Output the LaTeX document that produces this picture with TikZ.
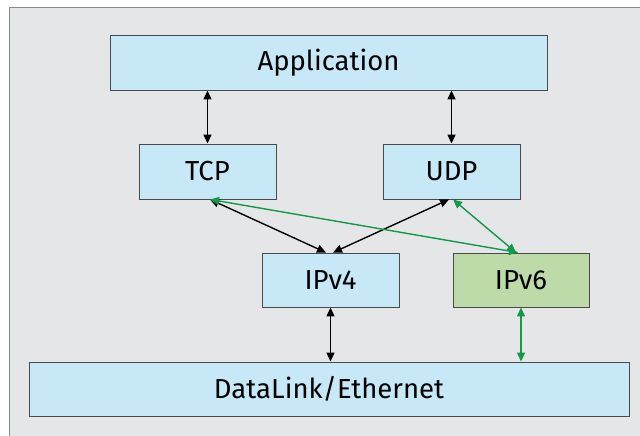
\documentclass[tikz,border=0pt]{standalone}
\usepackage{fontspec}
\setmainfont{Fira Sans}
\usetikzlibrary{arrows.meta}
\definecolor{bg}{HTML}{E5E6E8}
\definecolor{frame}{HTML}{8A8B8D}
\definecolor{boxblue}{HTML}{C6E8F7}
\definecolor{boxgreen}{HTML}{BCDBA9}
\definecolor{boxline}{HTML}{4A4A4A}
\definecolor{arrgreen}{HTML}{12994A}
\tikzset{
  layer/.style={draw=boxline, line width=0.9pt, fill=boxblue, inner sep=0pt,
    font=\fontsize{27.5}{32}\selectfont, text=black},
  conn/.style={line width=1.4pt, {Triangle[length=9pt,width=8pt]}-{Triangle[length=9pt,width=8pt]}},
  gconn/.style={conn, draw=arrgreen, fill=arrgreen},
}
\begin{document}
\begin{tikzpicture}[x=1pt,y=-1pt]
\useasboundingbox (0,0) rectangle (640,436);
\draw[frame, fill=bg, line width=1pt] (9,8) rectangle (648,444);
\node[layer, minimum width=437pt, minimum height=55pt] (app) at (328.5,62.5) {Application};
\node[layer, minimum width=137pt, minimum height=55pt] (tcp) at (207.5,171.5) {TCP};
\node[layer, minimum width=137pt, minimum height=55pt] (udp) at (451.5,171.5) {UDP};
\node[layer, minimum width=137pt, minimum height=54pt] (ipv4) at (330.5,280) {IPv4};
\node[layer, fill=boxgreen, minimum width=136pt, minimum height=54pt] (ipv6) at (521,280) {IPv6};
\node[layer, minimum width=600pt, minimum height=54pt] (dl) at (329,389) {DataLink/Ethernet};
% black connectors
\draw[conn] (app.south -| tcp.south) -- (tcp.north);
\draw[conn] (app.south -| udp.south) -- (udp.north);
\draw[conn] ([xshift=2.5pt]tcp.south) -- ([xshift=-4.5pt]ipv4.north);
\draw[conn] ([xshift=-2.5pt]udp.south) -- ([xshift=2.5pt]ipv4.north);
\draw[conn] (ipv4.south) -- (dl.north -| ipv4.south);
% green connectors
\draw[gconn] ([xshift=2.5pt]tcp.south) -- ([xshift=-3pt]ipv6.north);
\draw[gconn] ([xshift=1.5pt]udp.south) -- ([xshift=-5pt]ipv6.north);
\draw[gconn] (ipv6.south) -- (dl.north -| ipv6.south);
\end{tikzpicture}
\end{document}
